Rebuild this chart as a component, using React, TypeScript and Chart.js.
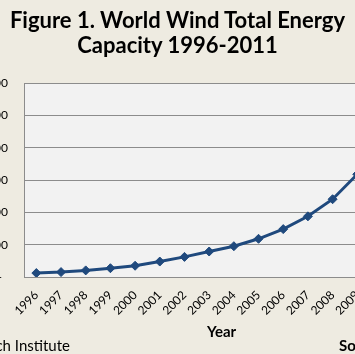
import { useEffect, useRef } from 'react';
import { Chart, registerables } from 'chart.js';

Chart.register(...registerables);

const years = ['1996', '1997', '1998', '1999', '2000', '2001', '2002', '2003', '2004', '2005', '2006', '2007', '2008', '2009', '2010', '2011'];
const capacityMW = [6100, 7600, 10200, 13600, 17400, 23900, 31100, 39431, 47620, 59091, 74052, 93820, 120291, 158864, 197637, 238351];
const yMin = 0;
const yMax = 300000;
const yStep = 50000;
const titleLines = ['Figure 1. World Wind Total Energy', 'Capacity 1996-2011'];
const xTitle = 'Year';
const footLeft = 'Source: Worldwatch Institute';
const footRight = 'Source:';

const FONT = 'Lato, "Open Sans", sans-serif';
const BG = '#EEEBE1';
const OFF = 60;
const CW = 520;
const CH = 354;

export default function App() {
  const ref = useRef<HTMLCanvasElement | null>(null);

  useEffect(() => {
    document.body.style.margin = '0';
    const canvas = ref.current;
    if (!canvas) return;
    const plotBg = {
      id: 'plotBg',
      beforeDraw(chart: any) {
        const { ctx, chartArea } = chart;
        ctx.save();
        ctx.fillStyle = '#F2F2F2';
        ctx.fillRect(chartArea.left, chartArea.top, chartArea.right - chartArea.left, chartArea.bottom - chartArea.top);
        ctx.restore();
      },
    };
    const chart = new Chart(canvas, {
      type: 'line',
      data: {
        labels: years,
        datasets: [
          {
            data: capacityMW,
            borderColor: '#1F497D',
            backgroundColor: '#1F497D',
            borderWidth: 3,
            pointStyle: 'rectRot',
            pointRadius: 4.5,
            pointBorderWidth: 1,
            tension: 0,
          },
        ],
      },
      options: {
        animation: false,
        responsive: false,
        maintainAspectRatio: false,
        layout: { padding: { left: 0, right: 41, top: 83, bottom: 0 } },
        plugins: { legend: { display: false }, title: { display: false }, tooltip: { enabled: false } },
        scales: {
          x: {
            offset: true,
            grid: { display: false, drawTicks: false },
            border: { display: true, color: '#8C8C8C', width: 1 },
            ticks: {
              autoSkip: false,
              maxRotation: 45,
              minRotation: 45,
              padding: 11,
              color: '#000',
              font: { family: FONT, size: 12 },
            },
            title: {
              display: true,
              text: xTitle,
              color: '#000',
              font: { family: FONT, size: 15, weight: 'bold' },
              padding: { top: 0, bottom: 13 },
            },
            afterFit(s: any) {
              s.height = 77;
            },
          },
          y: {
            min: yMin,
            max: yMax,
            grid: { color: '#8C8C8C', drawTicks: false },
            border: { display: true, color: '#8C8C8C', width: 1 },
            ticks: {
              stepSize: yStep,
              padding: 16,
              color: '#000',
              font: { family: FONT, size: 12 },
              callback: (v: any) => (Number(v) === 0 ? '-  ' : Number(v).toLocaleString('en-US')),
            },
            afterFit(s: any) {
              s.width = 84;
            },
          },
        },
      },
      plugins: [plotBg],
    });
    return () => chart.destroy();
  }, []);

  return (
    <div style={{ position: 'fixed', left: 0, top: 0, width: 355, height: 354, overflow: 'hidden', background: BG, fontFamily: FONT }}>
      <canvas ref={ref} width={CW} height={CH} style={{ position: 'absolute', left: -OFF, top: 0, width: CW, height: CH }} />
      <div style={{ position: 'absolute', left: 0, top: 7, width: 355, textAlign: 'center', fontSize: 22, fontWeight: 700, lineHeight: '25px', color: '#000', whiteSpace: 'nowrap' }}>
        {titleLines.map((t) => (
          <div key={t}>{t}</div>
        ))}
      </div>
      <div style={{ position: 'absolute', right: 285, top: 336, whiteSpace: 'nowrap', fontSize: 15, color: '#000' }}>{footLeft}</div>
      <div style={{ position: 'absolute', left: 339, top: 336, whiteSpace: 'nowrap', fontSize: 15, fontWeight: 700, color: '#000' }}>{footRight}</div>
    </div>
  );
}
